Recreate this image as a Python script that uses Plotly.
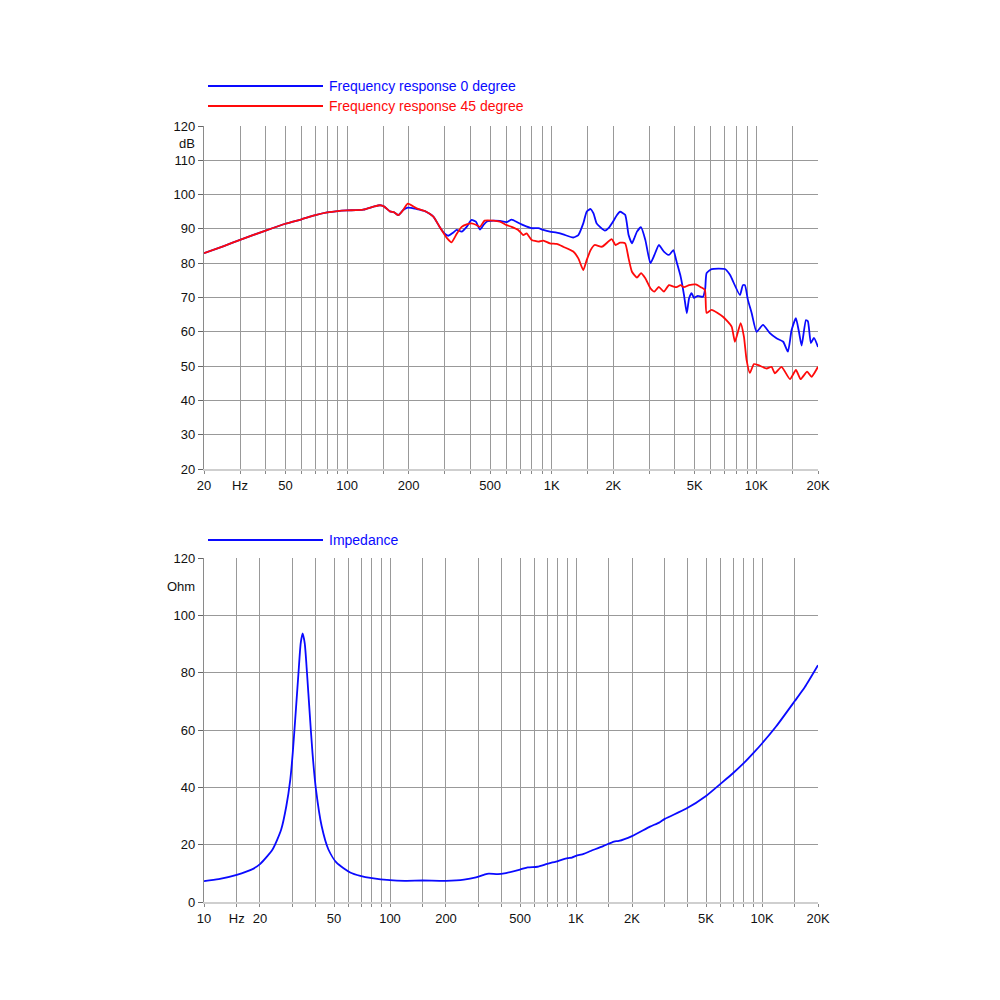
import math
import plotly.graph_objects as go

# ---------------- data ----------------
freq_0 = [20, 25, 30, 40, 50, 60, 70, 80, 90, 100, 120, 135, 145, 152, 162, 170, 178, 188,
          198, 219, 240, 264, 284, 300, 312, 328, 343, 363, 384, 406, 426, 446, 465, 481,
          518, 558, 602, 637, 686, 726, 798, 860, 910, 980, 1057, 1138, 1274, 1349, 1426,
          1482, 1549, 1600, 1657, 1721, 1820, 1900, 2002, 2080, 2158, 2284, 2375, 2466,
          2540, 2609, 2729, 2866, 3035, 3176, 3336, 3532, 3739, 3928, 4075, 4265, 4430,
          4570, 4690, 4826, 4950, 5180, 5480, 5620, 5710, 6042, 7020, 7425, 8310, 8590,
          8790, 9090, 9480, 10020, 10770, 11640, 12540, 13520, 14260, 14860, 15600, 16140,
          16640, 17460, 17860, 18460, 19100, 20000]
spl_0 = [82.9, 85.0, 86.8, 89.5, 91.5, 92.8, 94.0, 94.8, 95.2, 95.4, 95.6, 96.5, 96.9, 96.5,
         95.1, 94.8, 94.0, 95.5,
         96.2, 95.8, 95.2, 93.6, 90.5, 88.6, 88.0, 88.8, 89.7, 89.2, 90.6, 92.6, 92.1, 89.8,
         91.2, 92.1, 92.4, 92.3, 92.0, 92.7, 91.8, 91.1, 90.2, 90.2, 89.7, 89.2, 88.9, 88.4,
         87.5, 88.2, 91.6, 95.0, 95.8, 94.5, 91.6, 90.6, 89.5, 90.3, 92.3, 94.0, 95.0, 94.1,
         88.2, 85.8, 87.5, 89.2, 90.5, 86.8, 80.0, 82.4, 85.3, 83.4, 82.4, 83.8, 80.4, 76.1,
         70.7, 65.4, 69.8, 71.3, 69.9, 70.5, 70.2, 72.5, 77.1, 78.3, 78.3, 76.6, 70.7, 73.6,
         73.6, 69.3, 65.5, 60.0, 62.0, 59.6, 58.1, 57.1, 54.2, 60.5, 64.0, 60.0, 56.0, 63.4,
         63.0, 56.7, 58.2, 55.6]

freq_45 = [20, 25, 30, 40, 50, 60, 70, 80, 90, 100, 120, 135, 145, 152, 162, 170, 178, 188,
           198, 219, 240, 264, 284, 307, 324, 343, 363, 384, 406, 426, 446, 470, 518, 558,
           602, 637, 686, 726, 754, 798, 860, 910, 980, 1057, 1138, 1274, 1349, 1426, 1482,
           1549, 1620, 1760, 1963, 2050, 2158, 2284, 2375, 2466, 2609, 2729, 2866, 3035,
           3176, 3336, 3532, 3739, 3928, 4075, 4265, 4430, 4690, 5055, 5354, 5604, 5710,
           6042, 6864, 7568, 7855, 8376, 8690, 8954, 9290, 9730, 10210, 11220, 11860, 12300,
           13270, 14590, 15600, 16450, 17700, 18600, 20000]
spl_45 = [82.9, 85.0, 86.8, 89.5, 91.5, 92.8, 94.0, 94.8, 95.2, 95.4, 95.6, 96.5, 96.9, 96.5,
          95.1, 94.8, 94.0, 95.5,
          97.4, 96.0, 95.2, 93.6, 90.5, 87.4, 86.1, 88.5, 90.6, 91.3, 91.6, 91.2, 90.6, 92.4,
          92.4, 92.1, 91.1, 90.6, 89.7, 88.2, 88.7, 86.8, 86.3, 86.6, 85.8, 85.6, 84.8, 83.4,
          81.4, 78.0, 80.9, 83.8, 85.3, 84.8, 87.0, 85.3, 86.0, 85.8, 81.4, 77.5, 75.8, 77.1,
          75.6, 72.7, 71.7, 73.1, 71.7, 73.6, 73.2, 73.0, 73.6, 73.0, 73.6, 73.8, 73.0, 72.2,
          65.5, 66.4, 64.4, 61.5, 57.1, 62.5, 58.6, 51.8, 48.0, 50.6, 50.3, 49.3, 49.8, 47.9,
          49.8, 46.2, 48.9, 46.2, 48.4, 46.9, 49.8]

freq_imp = [10, 12, 15, 18, 20, 23.4, 26.0, 27.7, 29.1, 30, 31.1, 32.2, 33.1, 33.9, 34.8,
            35.8, 37.0, 38.3, 40, 42.9, 46.6, 51.6, 61.1, 69.2, 80, 100, 120, 150, 200, 250,
            290, 320, 340, 380, 420, 500, 550, 620, 700, 800, 900, 950, 1000, 1100, 1200,
            1400, 1600, 1700, 2000, 2500, 2800, 3000, 3900, 5000, 6000, 7000, 8000, 9000,
            10000, 11900, 15000, 17000, 20000]
ohm_imp = [7.3, 8.0, 9.5, 11.3, 13.2, 18.4, 25.3, 33.4, 42.7, 52.0, 65.9, 79.8, 90.2, 93.7,
           90.2, 79.8, 65.9, 52.0, 39.2, 26.5, 18.4, 13.7, 10.3, 9.1, 8.3, 7.6, 7.4, 7.5, 7.4,
           7.8, 8.6, 9.5, 9.9, 9.7, 10.1, 11.3, 12.1, 12.3, 13.3, 14.3, 15.3, 15.5, 16.1, 16.8,
           17.8, 19.5, 21.1, 21.3, 23.0, 26.3, 27.7, 29.0, 32.5, 37.0, 41.3, 45.0, 48.5, 52.0,
           55.3, 61.2, 70.1, 75.0, 82.6]

grid_top = [20, 30, 40, 50, 60, 70, 80, 90, 100, 150, 200, 300, 400, 500, 600, 700, 800, 900,
            1000, 1500, 2000, 3000, 4000, 5000, 6000, 7000, 8000, 9000, 10000, 15000, 20000]
grid_bot = [10, 15] + grid_top
labels = {10: "10", 15: "Hz", 20: "20", 30: "Hz", 50: "50", 100: "100", 200: "200",
          500: "500", 1000: "1K", 2000: "2K", 5000: "5K", 10000: "10K", 20000: "20K"}
text_top = [("Hz" if f == 30 else labels.get(f, "")) for f in grid_top]
text_bot = [("" if f == 30 else labels.get(f, "")) for f in grid_bot]

db_ticks = list(range(20, 121, 10))
ohm_ticks = list(range(0, 121, 20))

BLUE = "#0a0aff"
RED = "#ff0a0a"
FONT = "Liberation Sans, Arial, sans-serif"

fig = go.Figure()
fig.add_trace(go.Scatter(x=freq_0, y=spl_0, xaxis="x", yaxis="y", mode="lines",
                         line=dict(color=BLUE, width=1.8, shape="spline", smoothing=0.5),
                         name="Frequency response 0 degree"))
fig.add_trace(go.Scatter(x=freq_45, y=spl_45, xaxis="x", yaxis="y", mode="lines",
                         line=dict(color=RED, width=1.8, shape="spline", smoothing=0.5),
                         name="Frequency response 45 degree"))
fig.add_trace(go.Scatter(x=freq_imp, y=ohm_imp, xaxis="x2", yaxis="y2", mode="lines",
                         line=dict(color=BLUE, width=1.8, shape="spline", smoothing=0.6),
                         name="Impedance"))

common_x = dict(type="log", showgrid=True, gridcolor="#999999", gridwidth=1.3,
                showline=True, linecolor="#cfcfcf", linewidth=2, ticks="outside",
                ticklen=3, tickcolor="#888", zeroline=False, automargin=False,
                tickfont=dict(family=FONT, size=13, color="#111"), tickangle=0)
common_y = dict(showgrid=True, gridcolor="#999999", gridwidth=1.3, showline=True,
                linecolor="#8a8a8a", linewidth=1.4, mirror=False, ticks="outside",
                ticklen=5, tickcolor="#666", zeroline=False, automargin=False,
                tickfont=dict(family=FONT, size=13, color="#111"))

fig.update_layout(
    width=1000, height=1000, margin=dict(l=0, r=0, t=0, b=0, autoexpand=False),
    paper_bgcolor="white", plot_bgcolor="white", showlegend=False,
    xaxis=dict(common_x, domain=[0.196, 0.810], anchor="y",
               range=[math.log10(20), math.log10(20000)],
               tickmode="array", tickvals=grid_top, ticktext=text_top),
    yaxis=dict(common_y, domain=[0.539, 0.882], anchor="x", range=[20, 120],
               tickmode="array", tickvals=db_ticks),
    xaxis2=dict(common_x, domain=[0.196, 0.810], anchor="y2",
                range=[1, math.log10(20000)],
                tickmode="array", tickvals=grid_bot, ticktext=text_bot),
    yaxis2=dict(common_y, domain=[0.106, 0.450], anchor="x2", range=[0, 120],
                tickmode="array", tickvals=ohm_ticks),
)

# axis unit labels
fig.add_annotation(x=0.196, xref="paper", y=115, yref="y", text="dB", showarrow=False,
                   xanchor="right", xshift=-7, font=dict(family=FONT, size=13, color="#111"))
fig.add_annotation(x=0.196, xref="paper", y=110, yref="y2", text="Ohm", showarrow=False,
                   xanchor="right", xshift=-7, font=dict(family=FONT, size=13, color="#111"))

# legend entries (line samples + labels)
legend = [(0.922, BLUE, "Frequency response 0 degree"),
          (0.902, RED, "Frequency response 45 degree"),
          (0.468, BLUE, "Impedance")]
for yy, col, txt in legend:
    fig.add_shape(type="line", xref="paper", yref="paper", x0=0.200, x1=0.315, y0=yy, y1=yy,
                  line=dict(color=col, width=1.8))
    fig.add_annotation(x=0.319, xref="paper", y=yy, yref="paper", text=txt, showarrow=False,
                       xanchor="left", yanchor="middle",
                       font=dict(family=FONT, size=14, color=col))

fig.write_html("out.html")
